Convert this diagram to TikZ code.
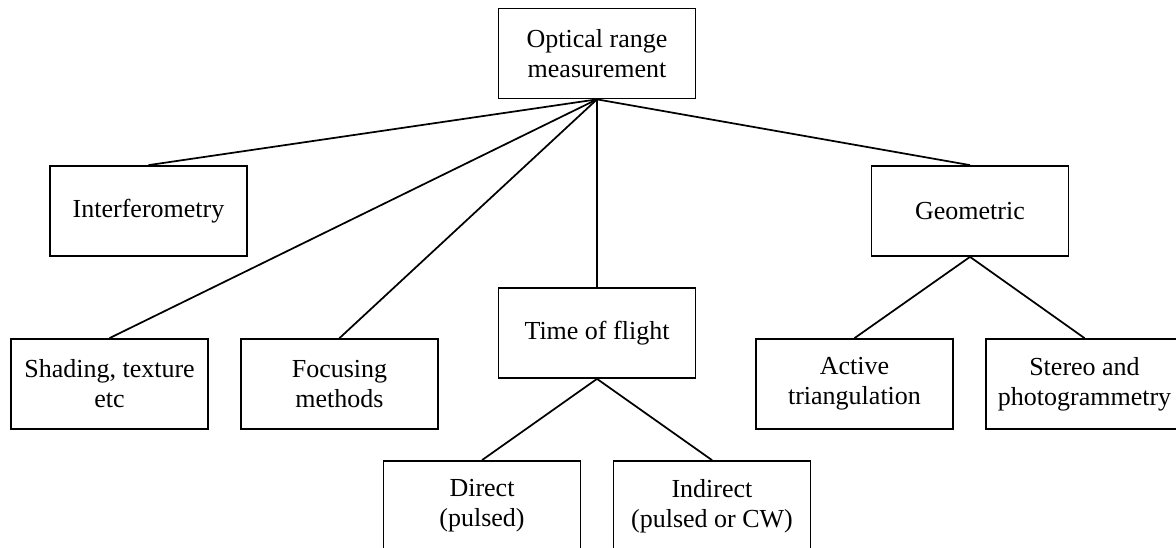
\documentclass[tikz,border=0pt]{standalone}
\usepackage{fontspec}
\setmainfont{Liberation Serif}
\begin{document}
\begin{tikzpicture}[x=0.75pt,y=-0.75pt,line width=1.3pt,
  box/.style={draw,rectangle,minimum width=147.75pt,minimum height=67.5pt,align=center,inner sep=0pt,font=\fontsize{19.5}{22.5}\selectfont}]
\useasboundingbox (0,0) rectangle (1176,548);
\node[box] (optical) at (597,53.5) {Optical range\\measurement};
\node[box] (interf) at (148.5,211) {Interferometry};
\node[box] (geom) at (970,211) {Geometric};
\node[box] (tof) at (597,333) {Time of flight};
\node[box] (shading) at (109.5,384) {Shading, texture\\etc};
\node[box] (focus) at (339.5,384) {Focusing\\methods};
\node[box] (active) at (854.5,384) {Active\\triangulation};
\node[box] (stereo) at (1084.5,384) {Stereo and\\photogrammetry};
\node[box] (direct) at (482,506) {Direct\\(pulsed)};
\node[box] (indirect) at (712,506) {Indirect\\(pulsed or CW)};
\draw (optical.south)--(interf.north);
\draw (optical.south)--(shading.north);
\draw (optical.south)--(focus.north);
\draw (optical.south)--(tof.north);
\draw (optical.south)--(geom.north);
\draw (tof.south)--(direct.north);
\draw (tof.south)--(indirect.north);
\draw (geom.south)--(active.north);
\draw (geom.south)--(stereo.north);
\end{tikzpicture}
\end{document}
